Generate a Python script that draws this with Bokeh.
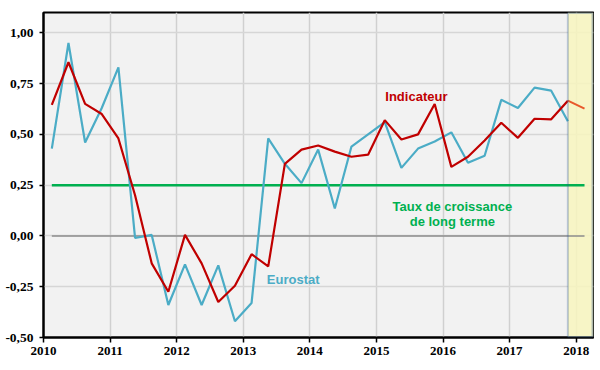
from bokeh.plotting import figure
from bokeh.models import FixedTicker, BoxAnnotation, Label, Range1d
from bokeh.embed import file_html
from bokeh.resources import INLINE

# ---- data ----
years = [2010, 2011, 2012, 2013, 2014, 2015, 2016, 2017]
quarters = [y + (q - 0.5) / 4 for y in years for q in range(1, 5)]
eurostat = [0.43, 0.95, 0.46, 0.63,
            0.83, -0.01, 0.005, -0.34,
            -0.14, -0.34, -0.145, -0.42,
            -0.33, 0.48, 0.355, 0.26,
            0.425, 0.135, 0.44, 0.50,
            0.56, 0.335, 0.43, 0.465,
            0.51, 0.36, 0.395, 0.67,
            0.63, 0.73, 0.715, 0.565]
indicateur = [0.645, 0.855, 0.65, 0.60,
              0.48, 0.20, -0.135, -0.275,
              0.005, -0.135, -0.325, -0.245,
              -0.09, -0.15, 0.355, 0.425,
              0.445, 0.415, 0.39, 0.40,
              0.57, 0.475, 0.50, 0.65,
              0.34, 0.39, 0.47, 0.557,
              0.483, 0.577, 0.574, 0.666]
forecast_x = [2017.875, 2018.125]
forecast_y = [0.666, 0.627]
long_term = 0.25
x_ticks = [2010, 2011, 2012, 2013, 2014, 2015, 2016, 2017, 2018]
y_ticks = [-0.5, -0.25, 0.0, 0.25, 0.5, 0.75, 1.0]
y_labels = ["-0,50", "-0,25", "0,00", "0,25", "0,50", "0,75", "1,00"]

p = figure(width=594, height=362, output_backend="svg", toolbar_location=None,
           x_range=Range1d(2010, 2018.26), y_range=Range1d(-0.5, 1.1),
           min_border_left=43, min_border_right=1, min_border_top=12, min_border_bottom=25)
p.background_fill_color = "#F2F2F2"
p.border_fill_color = "white"
p.outline_line_color = "black"
p.outline_line_width = 2

p.xaxis.ticker = FixedTicker(ticks=x_ticks)
p.yaxis.ticker = FixedTicker(ticks=y_ticks)
p.yaxis.major_label_overrides = {t: l for t, l in zip(y_ticks, y_labels)}
for ax in (p.xaxis, p.yaxis):
    ax.axis_line_color = "black"
    ax.axis_line_width = 2
    ax.major_tick_line_color = "black"
    ax.major_tick_line_width = 1.5
    ax.minor_tick_line_color = None
    ax.major_label_text_font = "Liberation Serif"
    ax.major_label_text_font_style = "bold"
    ax.major_label_text_color = "black"
p.xaxis.major_tick_in = 0
p.xaxis.major_tick_out = 5
p.yaxis.major_tick_in = 0
p.yaxis.major_tick_out = 4
p.xaxis.major_label_text_font_size = "13px"
p.yaxis.major_label_text_font_size = "13.5px"
p.xaxis.major_label_standoff = 4
p.yaxis.major_label_standoff = 6

p.xgrid.grid_line_color = "#D0D0D0"
p.xgrid.grid_line_width = 1.5
p.ygrid.grid_line_color = "#D6D6D6"
p.ygrid.grid_line_width = 1.5

band = BoxAnnotation(left=forecast_x[0], right=2018.26, fill_color="#F8F6BE", fill_alpha=0.85,
                     line_color=None, level="underlay")
p.add_layout(band)
band_edge = BoxAnnotation(left=forecast_x[0], right=2018.245, top=1.097, bottom=-0.497,
                          fill_alpha=0, line_color="#2F5597", line_width=2)
p.add_layout(band_edge)

# zero line and long-term line
p.line([quarters[0], forecast_x[-1]], [0, 0], line_color="#8C8C8C", line_width=1.5)
p.line([quarters[0], forecast_x[-1]], [long_term, long_term], line_color="#00B050", line_width=2.5)

p.line(quarters, eurostat, line_color="#4BACC6", line_width=2.2)
p.line(quarters, indicateur, line_color="#C00000", line_width=2.2)
p.line(forecast_x, forecast_y, line_color="#E8582A", line_width=2)

def lab(x, y, t, c):
    p.add_layout(Label(x=x, y=y, text=t, text_color=c, text_font="Liberation Sans",
                       text_font_style="bold", text_font_size="13px",
                       text_align="center", text_baseline="middle"))

lab(2015.6, 0.686, "Indicateur", "#C00000")
lab(2013.75, -0.212, "Eurostat", "#4BACC6")
lab(2016.14, 0.143, "Taux de croissance", "#00B050")
lab(2016.14, 0.069, "de long terme", "#00B050")

open("out.html", "w").write(file_html(p, INLINE))
